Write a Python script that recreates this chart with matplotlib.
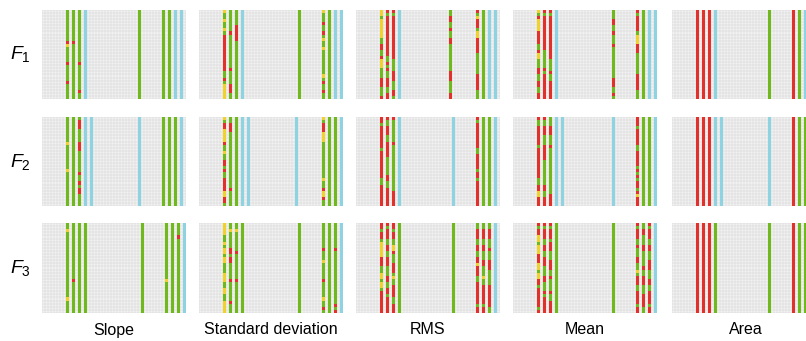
import numpy as np
import matplotlib
matplotlib.use("Agg")
import matplotlib.pyplot as plt
from matplotlib.colors import ListedColormap

plt.rcParams["font.family"] = ["Liberation Sans", "DejaVu Sans"]
plt.rcParams["mathtext.fontset"] = "custom"
plt.rcParams["mathtext.it"] = "Liberation Sans:italic"
plt.rcParams["mathtext.rm"] = "Liberation Sans"

# --- data: feature labels, rows, and per-panel coloured columns ---
# each coloured column is given as runs: g=green, r=red, y=yellow, b=blue
FEATURES = ["Slope", "Standard deviation", "RMS", "Mean", "Area"]
ROW_LABELS = [r"$F_1$", r"$F_2$", r"$F_3$"]

SLOPE_F1 = {8: "g10 r1 y1 g5 r1 g5 r1 g5", 10: "g10 r1 g18", 12: "g17 r1 g8 r1 g2",
            14: "b29", 32: "g29", 40: "g29", 42: "g29", 44: "b29", 46: "b29"}
STD_F1 = {8: "y1 g2 y1 g2 y1 g1 r12 g2 r1 g1 y5", 10: "g7 r1 g11 r1 g4 r3 g2",
          12: "g5 r5 g19", 14: "b29", 33: "g29",
          41: "y1 g3 r1 g2 r1 g1 y1 g2 y1 g8 y1 g1 r1 g2 r1 g2",
          43: "g29", 45: "b29", 47: "b29"}
RMS_F1 = {8: "y2 g1 y6 g2 r2 g2 r1 y3 g3 r3 g3 r1",
          10: "r1 g1 r13 g2 r1 g1 r1 g2 r3 g2 r2",
          12: "r1 g1 r14 g4 r3 g3 r2 g1", 14: "b29",
          31: "g2 r2 g2 r1 g2 r2 g9 r3 g4 r2",
          40: "r1 g1 y1 r3 g1 y2 r5 g7 r5 g3",
          42: "g29", 44: "b29", 46: "b29"}
MEAN_F1 = {8: "y1 g1 r1 y4 r4 g2 r1 y2 g3 r2 g2 r2 g2 r2",
           10: "r1 g1 r11 g6 r1 g1 r8", 12: "r1 g1 r14 g4 r1 g2 r6",
           14: "b29", 33: "g3 r2 g2 r1 g3 r1 g10 r3 g2 r1 g1",
           41: "r1 g1 r5 g1 y3 r3 g7 r5 g3", 43: "g29", 45: "b29", 47: "b29"}
AREA_F1 = {8: "r29", 10: "r29", 12: "r29", 14: "b29", 32: "g29",
           40: "r29", 42: "g29", 44: "b29", 46: "b29"}

SLOPE_F2 = {8: "g8 y1 g8 y1 g11", 10: "g29", 12: "g1 r3 g4 r3 g7 r1 g2 r1 g1 r2 g4",
            14: "b29", 16: "b29", 32: "b29", 40: "g29", 42: "g29", 44: "g29", 46: "b29"}
STD_F2 = {8: "y1 g1 r2 y4 r1 g2 y1 g2 r2 g1 r1 g2 r4 y2 r2 g1",
          10: "g2 r3 g18 r1 g5", 12: "g29", 14: "b29", 16: "b29", 32: "b29",
          41: "y1 g1 r3 y3 g12 y1 g2 r1 y2 r1 g2", 43: "g29", 45: "g29", 47: "b29"}
RMS_F2 = {8: "r2 g1 r7 g1 r9 g2 r7", 10: "r1 g2 r3 g2 r5 g6 r2 g2 r6",
          12: "r1 g7 r1 g15 r5", 14: "b29", 32: "b29",
          40: "r1 g1 r8 g2 r5 g1 r2 g1 r8", 42: "g29", 44: "g29", 46: "b29"}
MEAN_F2 = {8: "r1 g2 r6 g1 r10 g2 r2 y2 r3", 10: "r1 g2 r3 g3 r5 g8 r2 g2 r3",
           12: "g3 r3 g3 r1 g15 r4", 14: "b29", 16: "b29", 33: "b29",
           41: "r3 g1 r5 g2 r5 g1 r1 g1 r1 g1 r2 g1 r1 y1 r3",
           43: "g29", 45: "g29", 47: "b29"}
AREA_F2 = {8: "r29", 10: "r29", 12: "r29", 14: "b29", 16: "b29", 32: "b29",
           40: "r29", 42: "g29", 44: "g29", 46: "b29"}

SLOPE_F3 = {8: "g2 y1 g21 y1 g4", 10: "g18 r1 g10", 12: "g29", 14: "g29", 33: "g29",
            41: "g18 y1 g10", 43: "g29", 45: "g4 r1 g24", 47: "b29"}
STD_F3 = {8: "y4 g2 y1 g1 y2 g1 y2 g3 y3 g2 y2 g2 y4",
          10: "g2 y1 g5 r2 g1 r2 g5 r1 g6 r1 g3", 12: "g2 y1 g6 r1 g8 r1 g10",
          14: "g29", 33: "g29", 41: "g8 r1 g3 y1 g5 r1 g5 y1 g2 r1 g1",
          43: "g29", 45: "g8 r1 g17 r1 g1 r1", 47: "b29"}
RMS_F3 = {8: "r2 g1 r2 g1 y5 r3 g2 y2 g1 y2 g1 r7",
          10: "r1 g1 r3 g2 r2 g2 r3 g3 r2 g2 r2 g1 r5",
          12: "r2 g1 r2 g2 y2 r1 g3 r3 g1 y1 g2 r4 g2 r3",
          14: "g29", 32: "g29", 40: "g2 r3 g2 r2 g2 r2 y1 r3 g2 r7 g1 r2",
          42: "g2 r3 g2 r2 g3 r2 g3 y1 g2 r6 g1 r2",
          44: "g2 r3 g3 r1 g3 r3 g5 r7 g2", 46: "b29"}
MEAN_F3 = {8: "r1 g1 r2 y2 g1 y3 r3 y2 g1 y2 r2 g1 r6 g1 r1",
           10: "r1 g1 r3 g2 r2 g2 r3 g3 r2 g3 r1 g1 r5",
           12: "r1 g1 r3 g1 r3 g3 r3 g2 r1 g4 r1 g2 r4",
           14: "g29", 33: "g29", 41: "r1 g1 r3 g2 r1 g3 r2 g2 y1 g1 r3 g2 r4 g1 r2",
           43: "g2 r2 g3 r2 g5 r1 g2 r3 g3 r4 g2",
           45: "r1 g1 r3 g2 r2 g3 r3 g3 r2 g2 r4 g1 r2", 47: "b29"}
AREA_F3 = {8: "r29", 10: "r29", 12: "r29", 14: "g29", 32: "g29",
           40: "r29", 42: "g29", 44: "g29", 46: "b29"}

PANELS = [[SLOPE_F1, STD_F1, RMS_F1, MEAN_F1, AREA_F1],
          [SLOPE_F2, STD_F2, RMS_F2, MEAN_F2, AREA_F2],
          [SLOPE_F3, STD_F3, RMS_F3, MEAN_F3, AREA_F3]]

NROWS, NCOLS = 29, 48
CODES = {"g": 1, "r": 2, "y": 3, "b": 4}
cmap = ListedColormap(["#6fb91c", "#e2302a", "#f1d22a", "#8dd3e2"])
cmap.set_bad((0, 0, 0, 0))


def decode(runs):
    out = []
    for tok in runs.split():
        out += [CODES[tok[0]]] * int(tok[1:])
    assert len(out) == NROWS, runs
    return out


def build_grid(cols):
    grid = np.zeros((NROWS, NCOLS))
    for c, runs in cols.items():
        grid[:, c] = decode(runs)
    return np.ma.masked_equal(grid, 0)


W, H = 806, 341
COL_X = [42, 199, 356, 513, 672]   # left edge of each panel, px
PANEL_W = 144                       # 3 px per cell
ROW_Y = [(10, 99), (117, 206), (223, 313)]

fig = plt.figure(figsize=(W / 100, H / 100), dpi=100)

for i, (y0, y1) in enumerate(ROW_Y):
    for j, x0 in enumerate(COL_X):
        ax = fig.add_axes([x0 / W, 1 - y1 / H, PANEL_W / W, (y1 - y0) / H])
        ax.add_patch(plt.Rectangle((0, 0), NCOLS, NROWS, color="#f2f2f2", zorder=0))
        # faint cell grid
        ax.vlines(np.arange(NCOLS + 1), 0, NROWS, color="#d0d0d0", lw=0.3)
        ax.hlines(np.arange(NROWS + 1), 0, NCOLS, color="#d0d0d0", lw=0.3)
        ax.imshow(build_grid(PANELS[i][j]), cmap=cmap, vmin=0.5, vmax=4.5,
                  extent=(0, NCOLS, NROWS, 0), interpolation="nearest",
                  aspect="auto", zorder=3)
        ax.set_xlim(0, NCOLS)
        ax.set_ylim(NROWS, 0)
        ax.axis("off")
    fig.text(20 / W, 1 - (y0 + y1) / 2 / H, ROW_LABELS[i], fontsize=14,
             ha="center", va="center")

for j, x0 in enumerate(COL_X[:4]):
    fig.text((x0 + PANEL_W / 2) / W, 1 - 330 / H, FEATURES[j], fontsize=11.5,
             ha="center", va="center")
fig.text(746 / W, 1 - 330 / H, FEATURES[4], fontsize=11.5, ha="center", va="center")

fig.savefig("out.png", dpi=100)
